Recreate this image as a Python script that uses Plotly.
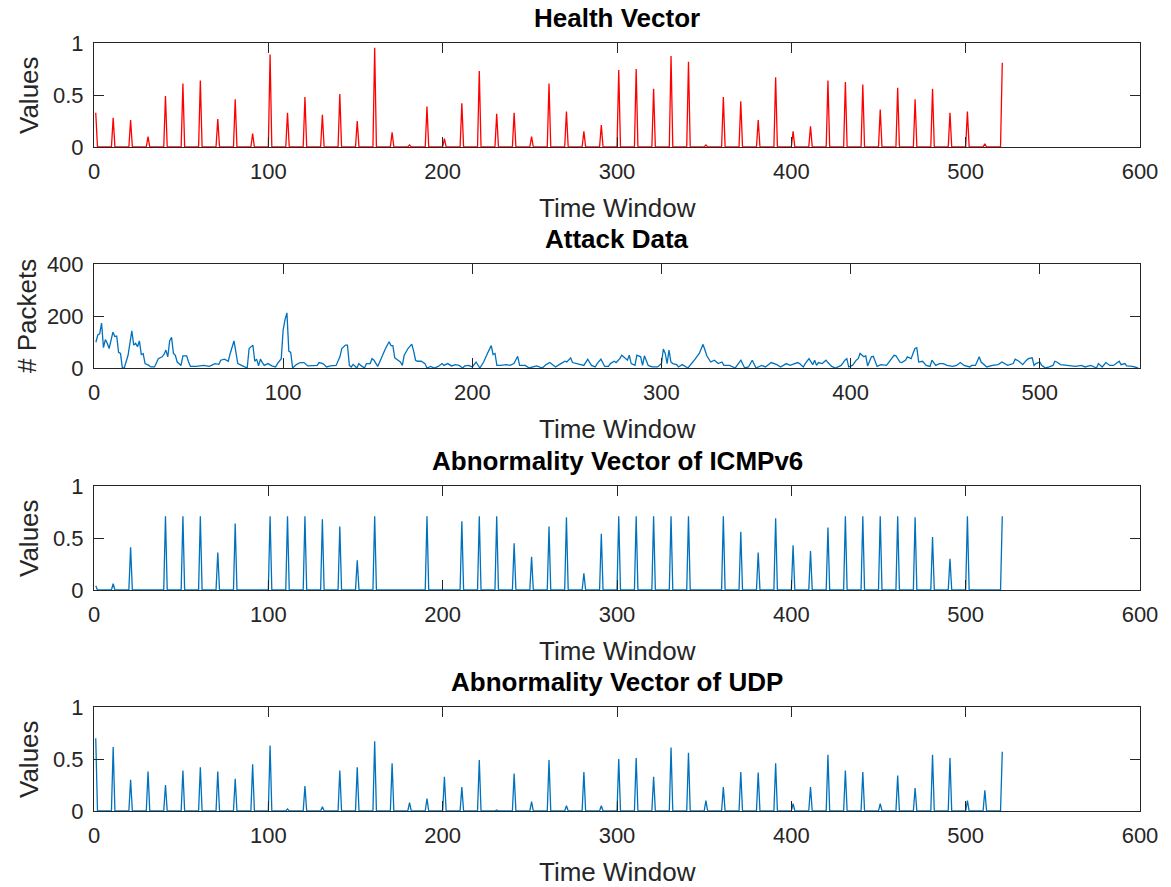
import plotly.graph_objects as go

# ---- data -------------------------------------------------------------
# spike values observed every 10th time window (t = 1, 11, 21, ..., 521)
spike_windows = list(range(1, 522, 10))

health_vector = [0.33, 0.28, 0.26, 0.10, 0.49, 0.61, 0.64, 0.27, 0.46, 0.13,
                 0.89, 0.33, 0.48, 0.31, 0.51, 0.25, 0.955, 0.14, 0.02, 0.39,
                 0.08, 0.42, 0.73, 0.32, 0.33, 0.10, 0.61, 0.34, 0.15, 0.21,
                 0.74, 0.75, 0.56, 0.875, 0.82, 0.02, 0.48, 0.44, 0.26, 0.67,
                 0.15, 0.20, 0.64, 0.625, 0.60, 0.36, 0.57, 0.46, 0.56, 0.33,
                 0.34, 0.03, 0.81]

icmpv6_abnormality = [0.04, 0.06, 0.41, 0.0, 0.71, 0.71, 0.71, 0.36, 0.64, 0.0,
                      0.71, 0.71, 0.71, 0.68, 0.61, 0.285, 0.71, 0.0, 0.0, 0.71,
                      0.0, 0.66, 0.71, 0.71, 0.45, 0.32, 0.61, 0.70, 0.16, 0.54,
                      0.71, 0.71, 0.71, 0.71, 0.71, 0.0, 0.71, 0.56, 0.36, 0.69,
                      0.43, 0.375, 0.60, 0.71, 0.71, 0.71, 0.71, 0.70, 0.51, 0.30,
                      0.71, 0.0, 0.71]

udp_abnormality = [0.70, 0.615, 0.30, 0.38, 0.25, 0.39, 0.42, 0.38, 0.31, 0.45,
                   0.63, 0.02, 0.24, 0.04, 0.39, 0.42, 0.67, 0.46, 0.08, 0.12,
                   0.33, 0.23, 0.49, 0.01, 0.36, 0.09, 0.49, 0.05, 0.375, 0.05,
                   0.50, 0.51, 0.33, 0.61, 0.56, 0.10, 0.23, 0.375, 0.37, 0.46,
                   0.07, 0.23, 0.54, 0.39, 0.375, 0.07, 0.34, 0.22, 0.54, 0.51,
                   0.10, 0.20, 0.57]

# packet counts per time window
attack_time = [
    1, 2, 3, 4, 5, 6, 7, 8, 10, 11, 12, 13, 14, 15, 16, 18, 20, 21, 22, 23,
    24, 25, 26, 27, 29, 30, 32, 34, 36, 37, 38, 39, 40, 41, 42, 43, 44, 46, 47, 49,
    50, 51, 54, 58, 61, 64, 66, 67, 69, 71, 72, 74, 75, 76, 78, 81, 82, 84, 85, 86,
    87, 88, 89, 90, 92, 94, 96, 97, 99, 100, 101, 102, 103, 104, 105, 107, 109, 111, 113, 115,
    118, 119, 121, 123, 125, 128, 130, 131, 133, 134, 135, 136, 137, 139, 140, 141, 143, 144, 146, 147,
    148, 150, 151, 153, 154, 156, 157, 158, 159, 160, 162, 163, 164, 166, 168, 169, 170, 171, 173, 175,
    176, 178, 180, 182, 184, 185, 187,
    189, 191, 193, 195, 196, 198, 200, 202, 204, 206, 208, 210, 211, 212, 213, 215, 218, 220, 222, 224,
    225, 228, 230, 234, 237, 239, 241, 244, 246, 249, 250, 252, 253, 255, 258, 259, 261, 263, 265, 266,
    268, 270, 272, 273, 275, 276, 278, 279, 280, 282, 283, 284, 286, 287, 289, 290, 291, 293, 295, 298,
    300, 301, 302, 303, 304, 305, 306, 308, 309, 311, 314, 316, 318, 320, 321, 322, 323, 324, 326, 328,
    330, 332, 333, 336, 339, 340, 342, 344, 346, 348, 350, 353, 355, 358, 361, 363, 366, 368, 372,
    373, 375, 376, 378, 380, 381, 382, 383, 385, 387, 388, 390, 392, 395, 397, 398, 399, 401, 403, 404,
    405, 407, 408, 409, 411, 412, 414, 416, 419, 421, 423, 424, 426, 427, 429, 430, 432, 433, 434, 435,
    436, 438, 440, 442, 443, 445, 447, 449, 451, 454, 456, 458, 460, 463, 464, 466, 468, 469, 471, 472,
    475, 478, 480, 483, 486, 487, 489, 491, 493, 494, 496, 497, 498, 500, 501, 503, 505, 507, 508, 509,
    511, 514, 516, 519, 522, 524, 527, 530, 531, 533, 535, 537, 539, 542, 543, 545, 546, 549, 552,
]
attack_packets = [
    99, 127, 131, 173, 78, 109, 95, 75, 138, 121, 123, 60, 56, 0, 0, 49, 143, 88, 95, 82,
    104, 52, 55, 17, 10, 4, 4, 36, 43, 52, 69, 43, 104, 118, 56, 49, 23, 10, 47, 47,
    23, 6, 6, 10, 6, 17, 14, 30, 34, 26, 56, 104, 62, 17, 10, 0, 75, 88, 26, 34,
    8, 34, 21, 10, 17, 8, 4, 17, 36, 147, 186, 212, 65, 60, 0, 13, 21, 21, 8, 8,
    10, 21, 17, 4, 8, 10, 43, 75, 88, 88, 10, 4, 14, 0, 17, 10, 0, 17, 17, 36,
    30, 6, 23, 60, 73, 101, 86, 86, 39, 34, 23, 10, 49, 75, 92, 65, 30, 26, 26, 17,
    0, 6, 0, 6, 17, 10, 17,
    8, 13, 10, 0, 8, 10, 4, 23, 0, 23, 56, 86, 52, 56, 10, 10, 13, 10, 17, 45,
    10, 10, 0, 8, 0, 13, 21, 4, 13, 26, 23, 39, 21, 17, 10, 10, 34, 10, 4, 17,
    34, 6, 6, 17, 26, 21, 36, 49, 43, 30, 49, 17, 10, 49, 43, 10, 47, 10, 4, 4,
    17, 73, 56, 17, 69, 23, 17, 13, 4, 13, 0, 17, 36, 56, 73, 91, 69, 47, 23, 30,
    17, 23, 10, 10, 0, 10, 30, 0, 4, 30, 0, 10, 4, 21, 13, 4, 17, 10, 21,
    17, 4, 17, 36, 13, 30, 10, 21, 17, 30, 21, 6, 0, 10, 30, 36, 4, 10, 30, 36,
    56, 43, 47, 8, 43, 45, 6, 13, 10, 30, 49, 47, 23, 21, 30, 43, 36, 56, 75, 78,
    23, 26, 10, 6, 30, 10, 17, 17, 10, 6, 10, 21, 10, 4, 10, 10, 43, 23, 10, 4,
    10, 13, 23, 10, 17, 34, 26, 13, 30, 36, 39, 10, 17, 23, 10, 0, 4, 10, 26, 23,
    13, 10, 10, 6, 10, 4, 10, 0, 17, 4, 21, 10, 10, 26, 13, 17, 8, 6, 0,
]


def spike_series(values):
    """Expand per-10-window values into a full series with zeros in between."""
    t = list(range(1, spike_windows[-1] + 1))
    lookup = dict(zip(spike_windows, values))
    return t, [lookup.get(k, 0.0) for k in t]


# ---- styling ----------------------------------------------------------
FONT = "Liberation Sans"
INK = "#262626"
RED = "#ff0000"
BLUE = "#0072bd"
W, H = 1171, 887

# panel pixel boxes (top, bottom) and shared left/right
LEFT, RIGHT = 94, 1140
panels = [(43, 147), (264, 368), (486, 590), (707, 811)]

titles = ["Health Vector", "Attack Data", "Abnormality Vector of ICMPv6",
          "Abnormality Vector of UDP"]
ylabels = ["Values", "# Packets", "Values", "Values"]
ylabel_x = [29, 27, 29, 29]

fig = go.Figure()

t1, y1 = spike_series(health_vector)
t3, y3 = spike_series(icmpv6_abnormality)
t4, y4 = spike_series(udp_abnormality)

LW = 1.3
fig.add_trace(go.Scatter(x=t1, y=y1, mode="lines", line=dict(color=RED, width=LW),
                         xaxis="x", yaxis="y", showlegend=False))
fig.add_trace(go.Scatter(x=attack_time, y=attack_packets, mode="lines",
                         line=dict(color=BLUE, width=LW),
                         xaxis="x2", yaxis="y2", showlegend=False))
fig.add_trace(go.Scatter(x=t3, y=y3, mode="lines", line=dict(color=BLUE, width=LW),
                         xaxis="x3", yaxis="y3", showlegend=False))
fig.add_trace(go.Scatter(x=t4, y=y4, mode="lines", line=dict(color=BLUE, width=LW),
                         xaxis="x4", yaxis="y4", showlegend=False))

axis_common = dict(
    showline=True, linecolor=INK, linewidth=1, mirror="ticks",
    ticks="inside", ticklen=10, tickcolor=INK, tickwidth=1,
    showgrid=False, zeroline=False, automargin=False,
    tickfont=dict(family=FONT, size=22, color=INK),
)

layout = dict(
    width=W, height=H,
    margin=dict(l=0, r=0, t=0, b=0, autoexpand=False),
    paper_bgcolor="white", plot_bgcolor="white",
    showlegend=False,
    annotations=[],
)

x_ranges = [[0, 600], [0, 553], [0, 600], [0, 600]]
y_ranges = [[0, 1], [0, 400], [0, 1], [0, 1]]
y_ticks = [[0, 0.5, 1], [0, 200, 400], [0, 0.5, 1], [0, 0.5, 1]]

xdom = [LEFT / W, RIGHT / W]
for i, (top, bottom) in enumerate(panels):
    suffix = "" if i == 0 else str(i + 1)
    anchor_x = "x" + suffix
    anchor_y = "y" + suffix
    ydom = [1 - bottom / H, 1 - top / H]
    layout["xaxis" + suffix] = dict(
        axis_common, domain=xdom, anchor=anchor_y, range=x_ranges[i],
        tickmode="array", tickvals=list(range(0, x_ranges[i][1] + 1, 100)),
        ticklabelstandoff=5,
    )
    layout["yaxis" + suffix] = dict(
        axis_common, domain=ydom, anchor=anchor_x, range=y_ranges[i],
        tickmode="array", tickvals=y_ticks[i],
        ticktext=[("%g" % v) for v in y_ticks[i]],
        ticklabelstandoff=5,
    )
    mid_x = (LEFT + RIGHT) / 2 / W
    layout["annotations"].append(dict(
        text="<b>%s</b>" % titles[i], xref="paper", yref="paper",
        x=mid_x, y=1 - (top - 25) / H, xanchor="center", yanchor="middle",
        showarrow=False, font=dict(family=FONT, size=26, color="black"),
    ))
    layout["annotations"].append(dict(
        text="Time Window", xref="paper", yref="paper",
        x=mid_x, y=1 - (bottom + 61) / H, xanchor="center", yanchor="middle",
        showarrow=False, font=dict(family=FONT, size=26, color=INK),
    ))
    layout["annotations"].append(dict(
        text=ylabels[i], xref="paper", yref="paper", textangle=-90,
        x=ylabel_x[i] / W, y=1 - (top + bottom) / 2 / H,
        xanchor="center", yanchor="middle",
        showarrow=False, font=dict(family=FONT, size=26, color=INK),
    ))

fig.update_layout(**layout)
fig.write_html("out.html")
